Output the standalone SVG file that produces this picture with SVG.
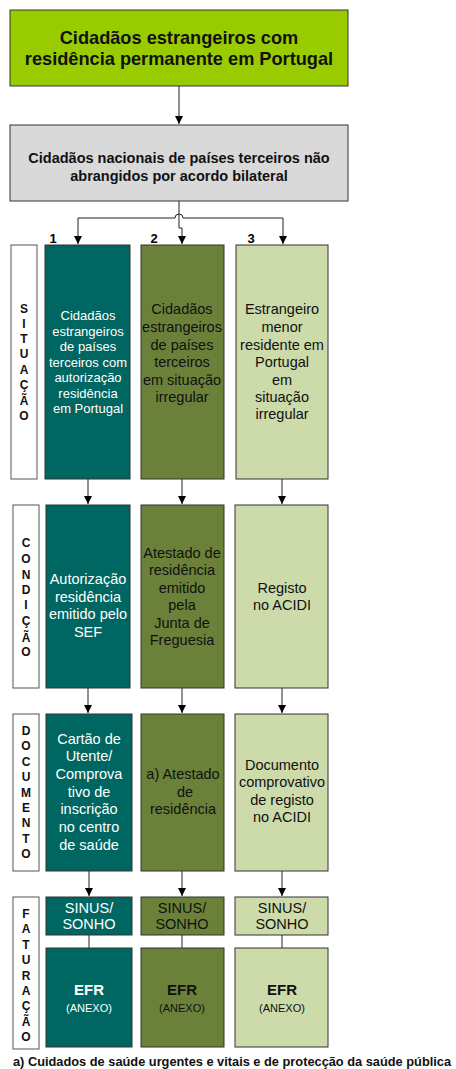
<svg xmlns="http://www.w3.org/2000/svg" width="456" height="1069" viewBox="0 0 456 1069">
<style>
text{font-family:"Liberation Sans",Arial,sans-serif;text-anchor:middle}
.b{font-weight:bold}
.box{stroke:#333;stroke-width:1}
.lab{fill:#fff;stroke:#555;stroke-width:1}
.c1{fill:#006661}
.c2{fill:#6B813A}
.c3{fill:#CCDBA9}
.w{fill:#fff;font-size:13px}
.k{fill:#111;font-size:14.5px}
.w2{fill:#fff;font-size:14.5px}
.v{font-size:12px;font-weight:bold;fill:#111}
.ln{fill:none;stroke:#222;stroke-width:1}
</style>
<defs>
<marker id="ah" markerWidth="9" markerHeight="8" refX="8" refY="4" orient="auto" markerUnits="userSpaceOnUse">
<path d="M0,0 L8,4 L0,8 Z" fill="#000"/>
</marker>
</defs>
<rect width="456" height="1069" fill="#fff"/>

<g id="top">
<rect class="box" x="10" y="10" width="338" height="76" fill="#99CC00"/>
<text class="b" x="179" y="43.5" font-size="18.2" fill="#111">Cidadãos estrangeiros com</text>
<text class="b" x="179" y="65" font-size="18.2" fill="#111">residência permanente em Portugal</text>
</g>

<g id="second">
<rect class="box" x="10" y="125" width="338" height="76" fill="#D9D9D9"/>
<text class="b" x="179" y="163" font-size="14.5" fill="#111">Cidadãos nacionais de países terceiros não</text>
<text class="b" x="179" y="181" font-size="14.5" fill="#111">abrangidos por acordo bilateral</text>
</g>

<g id="numbers" class="b" font-size="13" fill="#000">
<text x="53" y="243">1</text>
<text x="154" y="243">2</text>
<text x="251" y="243">3</text>
</g>

<g id="connectors">
<path class="ln" d="M179,86 V124" marker-end="url(#ah)"/>
<path class="ln" d="M179,201 V228 H182 V244" marker-end="url(#ah)"/>
<path class="ln" d="M78,218 H175 A4,4 0 0 1 183,218 H283"/>
<path class="ln" d="M78,218 V244" marker-end="url(#ah)"/>
<path class="ln" d="M283,218 V244" marker-end="url(#ah)"/>
<path class="ln" d="M88,479 V504" marker-end="url(#ah)"/>
<path class="ln" d="M182,479 V504" marker-end="url(#ah)"/>
<path class="ln" d="M282,479 V504" marker-end="url(#ah)"/>
<path class="ln" d="M88,688 V713" marker-end="url(#ah)"/>
<path class="ln" d="M182,688 V713" marker-end="url(#ah)"/>
<path class="ln" d="M282,688 V713" marker-end="url(#ah)"/>
<path class="ln" d="M89,871 V896" marker-end="url(#ah)"/>
<path class="ln" d="M182,871 V896" marker-end="url(#ah)"/>
<path class="ln" d="M282,871 V896" marker-end="url(#ah)"/>
<path class="ln" d="M89,935 V948"/>
<path class="ln" d="M182,935 V948"/>
<path class="ln" d="M282,935 V948"/>
</g>

<g id="lab-situacao">
<rect class="lab" x="11" y="245" width="26" height="234"/>
<text class="v" x="24" y="313">S</text>
<text class="v" x="24" y="328">I</text>
<text class="v" x="24" y="343">T</text>
<text class="v" x="24" y="358">U</text>
<text class="v" x="24" y="374">A</text>
<text class="v" x="24" y="389">Ç</text>
<text class="v" x="24" y="405">Ã</text>
<text class="v" x="24" y="420">O</text>
</g>

<g id="s1">
<rect class="box c1" x="45" y="245" width="85" height="234"/>
<text class="w" x="88" y="320">Cidadãos</text>
<text class="w" x="88" y="335.5">estrangeiros</text>
<text class="w" x="88" y="351">de países</text>
<text class="w" x="88" y="366.5">terceiros com</text>
<text class="w" x="88" y="382">autorização</text>
<text class="w" x="88" y="397.5">residência</text>
<text class="w" x="88" y="413">em Portugal</text>
</g>

<g id="s2">
<rect class="box c2" x="141" y="245" width="83" height="234"/>
<text class="k" x="182" y="314">Cidadãos</text>
<text class="k" x="182" y="332">estrangeiros</text>
<text class="k" x="182" y="350">de países</text>
<text class="k" x="182" y="367">terceiros</text>
<text class="k" x="182" y="385">em situação</text>
<text class="k" x="182" y="402">irregular</text>
</g>

<g id="s3">
<rect class="box c3" x="236" y="245" width="92" height="234"/>
<text class="k" x="282" y="314">Estrangeiro</text>
<text class="k" x="282" y="332">menor</text>
<text class="k" x="282" y="350">residente em</text>
<text class="k" x="282" y="367">Portugal</text>
<text class="k" x="282" y="385">em</text>
<text class="k" x="282" y="402">situação</text>
<text class="k" x="282" y="419">irregular</text>
</g>

<g id="lab-condicao">
<rect class="lab" x="13" y="505" width="26" height="183"/>
<text class="v" x="26" y="547">C</text>
<text class="v" x="26" y="563">O</text>
<text class="v" x="26" y="579">N</text>
<text class="v" x="26" y="594">D</text>
<text class="v" x="26" y="609">I</text>
<text class="v" x="26" y="625">Ç</text>
<text class="v" x="26" y="642">Ã</text>
<text class="v" x="26" y="656">O</text>
</g>

<g id="c1">
<rect class="box c1" x="46" y="505" width="84" height="183"/>
<text class="w2" x="88" y="584">Autorização</text>
<text class="w2" x="88" y="602">residência</text>
<text class="w2" x="88" y="619">emitido pelo</text>
<text class="w2" x="88" y="637">SEF</text>
</g>

<g id="c2">
<rect class="box c2" x="141" y="505" width="83" height="183"/>
<text class="k" x="182" y="558">Atestado de</text>
<text class="k" x="182" y="575">residência</text>
<text class="k" x="182" y="593">emitido</text>
<text class="k" x="182" y="610">pela</text>
<text class="k" x="182" y="628">Junta de</text>
<text class="k" x="182" y="645">Freguesia</text>
</g>

<g id="c3">
<rect class="box c3" x="235" y="505" width="93" height="183"/>
<text class="k" x="282" y="593">Registo</text>
<text class="k" x="282" y="610">no ACIDI</text>
</g>

<g id="lab-documento">
<rect class="lab" x="13" y="714" width="26" height="157"/>
<text class="v" x="26" y="735">D</text>
<text class="v" x="26" y="750">O</text>
<text class="v" x="26" y="766">C</text>
<text class="v" x="26" y="781">U</text>
<text class="v" x="26" y="797">M</text>
<text class="v" x="26" y="812">E</text>
<text class="v" x="26" y="827">N</text>
<text class="v" x="26" y="843">T</text>
<text class="v" x="26" y="858">O</text>
</g>

<g id="d1">
<rect class="box c1" x="46" y="714" width="86" height="157"/>
<text class="w2" x="89" y="744">Cartão de</text>
<text class="w2" x="89" y="761">Utente/</text>
<text class="w2" x="89" y="779">Comprova</text>
<text class="w2" x="89" y="797">tivo de</text>
<text class="w2" x="89" y="814">inscrição</text>
<text class="w2" x="89" y="832">no centro</text>
<text class="w2" x="89" y="850">de saúde</text>
</g>

<g id="d2">
<rect class="box c2" x="141" y="714" width="83" height="157"/>
<text class="k" x="183" y="779">a) Atestado</text>
<text class="k" x="185" y="797">de</text>
<text class="k" x="183" y="814">residência</text>
</g>

<g id="d3">
<rect class="box c3" x="235" y="714" width="93" height="157"/>
<text class="k" x="282" y="770">Documento</text>
<text class="k" x="282" y="787">comprovativo</text>
<text class="k" x="282" y="805">de registo</text>
<text class="k" x="282" y="822">no ACIDI</text>
</g>

<g id="lab-faturacao">
<rect class="lab" x="13" y="897" width="26" height="152"/>
<text class="v" x="26" y="918">F</text>
<text class="v" x="26" y="933">A</text>
<text class="v" x="26" y="949">T</text>
<text class="v" x="26" y="964">U</text>
<text class="v" x="26" y="980">R</text>
<text class="v" x="26" y="995">A</text>
<text class="v" x="26" y="1010">Ç</text>
<text class="v" x="26" y="1026">Ã</text>
<text class="v" x="26" y="1041">O</text>
</g>

<g id="f1">
<rect class="box c1" x="46" y="897" width="86" height="38"/>
<text class="w2" x="89" y="913">SINUS/</text>
<text class="w2" x="89" y="929">SONHO</text>
</g>
<g id="f2">
<rect class="box c2" x="141" y="897" width="83" height="38"/>
<text class="k" x="182" y="913">SINUS/</text>
<text class="k" x="182" y="929">SONHO</text>
</g>
<g id="f3">
<rect class="box c3" x="235" y="897" width="93" height="38"/>
<text class="k" x="282" y="913">SINUS/</text>
<text class="k" x="282" y="929">SONHO</text>
</g>

<g id="e1">
<rect class="box c1" x="46" y="948" width="86" height="99"/>
<text class="b" x="89" y="995" font-size="15" fill="#fff">EFR</text>
<text x="89" y="1012" font-size="11" fill="#fff">(ANEXO)</text>
</g>
<g id="e2">
<rect class="box c2" x="141" y="948" width="83" height="99"/>
<text class="b" x="182" y="995" font-size="15" fill="#111">EFR</text>
<text x="182" y="1012" font-size="11" fill="#111">(ANEXO)</text>
</g>
<g id="e3">
<rect class="box c3" x="235" y="948" width="93" height="99"/>
<text class="b" x="282" y="995" font-size="15" fill="#111">EFR</text>
<text x="282" y="1012" font-size="11" fill="#111">(ANEXO)</text>
</g>

<text id="footnote" class="b" x="13" y="1066" font-size="12.8" fill="#111" style="text-anchor:start">a) Cuidados de saúde urgentes e vitais e de protecção da saúde pública</text>
</svg>
